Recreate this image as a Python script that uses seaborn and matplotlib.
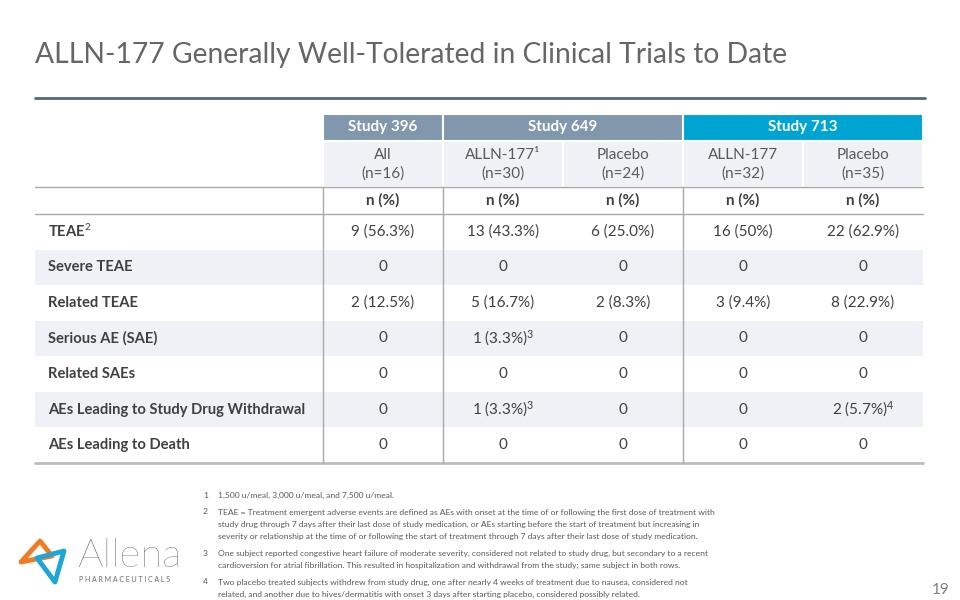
import numpy as np
import pandas as pd
import seaborn as sns
import matplotlib.pyplot as plt
from matplotlib.colors import ListedColormap
from matplotlib.patches import Rectangle, Polygon

# table content
studies = ['Study 396', 'Study 649', 'Study 713']
study_span = [1, 2, 2]
study_colors = ['#8097ac', '#8097ac', '#00a4d3']
arms = ['All', 'ALLN-177¹', 'Placebo', 'ALLN-177', 'Placebo']
arm_n = ['(n=16)', '(n=30)', '(n=24)', '(n=32)', '(n=35)']
unit = 'n (%)'
row_labels = ['TEAE$^{2}$', 'Severe TEAE', 'Related TEAE', 'Serious AE (SAE)', 'Related SAEs',
              'AEs Leading to Study Drug Withdrawal', 'AEs Leading to Death']
study396 = ['9 (56.3%)', '0', '2 (12.5%)', '0', '0', '0', '0']
study649_drug = ['13 (43.3%)', '0', '5 (16.7%)', '1 (3.3%)$^{3}$', '0', '1 (3.3%)$^{3}$', '0']
study649_pbo = ['6 (25.0%)', '0', '2 (8.3%)', '0', '0', '0', '0']
study713_drug = ['16 (50%)', '0', '3 (9.4%)', '0', '0', '0', '0']
study713_pbo = ['22 (62.9%)', '0', '8 (22.9%)', '0', '0', '2 (5.7%)$^{4}$', '0']

footnotes = [
    ('1', ['1,500 u/meal, 3,000 u/meal, and 7,500 u/meal.']),
    ('2', ['TEAE = Treatment emergent adverse events are defined as AEs with onset at the time of or following the first dose of treatment with',
           'study drug through 7 days after their last dose of study medication, or AEs starting before the start of treatment but increasing in',
           'severity or relationship at the time of or following the start of treatment through 7 days after their last dose of study medication.']),
    ('3', ['One subject reported congestive heart failure of moderate severity, considered not related to study drug, but secondary to a recent',
           'cardioversion for atrial fibrillation. This resulted in hospitalization and withdrawal from the study; same subject in both rows.']),
    ('4', ['Two placebo treated subjects withdrew from study drug, one after nearly 4 weeks of treatment due to nausea, considered not',
           'related, and another due to hives/dermatitis with onset 3 days after starting placebo, considered possibly related.']),
]

sns.set_theme(style='white')
plt.rcParams['font.family'] = ['Lato', 'DejaVu Sans']
plt.rcParams['mathtext.fontset'] = 'custom'
plt.rcParams['mathtext.rm'] = 'Lato'
plt.rcParams['mathtext.it'] = 'Lato:italic'
plt.rcParams['mathtext.bf'] = 'Lato:bold'

TXT = '#404040'
GRID = '#a9a9a9'
SHADE = '#eef1f5'

fig = plt.figure(figsize=(9.6, 6), dpi=100)
fig.patch.set_facecolor('white')

# layout in pixels
col_edges = [35, 323, 443, 563, 683, 803, 923]
y_h0, y_h1, y_h2, y_h3, y_end = 114, 141, 187, 214, 463

def fig_rect(x0, x1, y0, y1):
    return [x0 / 960, (600 - y1) / 600, (x1 - x0) / 960, (y1 - y0) / 600]

# data cells through a heatmap
values = pd.DataFrame({'a': study396, 'b': study649_drug, 'c': study649_pbo,
                       'd': study713_drug, 'e': study713_pbo}, index=row_labels)
shade = np.array([[i % 2] * values.shape[1] for i in range(len(values))])
cmap = ListedColormap(['white', SHADE])

ax_d = fig.add_axes(fig_rect(col_edges[1], col_edges[-1], y_h3, y_end))
sns.heatmap(shade, ax=ax_d, cmap=cmap, vmin=0, vmax=1, cbar=False,
            annot=values.values, fmt='', annot_kws={'fontsize': 11, 'color': TXT},
            xticklabels=False, yticklabels=False)

ax_l = fig.add_axes(fig_rect(col_edges[0], col_edges[1], y_h3, y_end))
sns.heatmap(shade[:, :1], ax=ax_l, cmap=cmap, vmin=0, vmax=1, cbar=False,
            xticklabels=False, yticklabels=False)
for i, lab in enumerate(row_labels):
    ax_l.text(0.045, i + 0.5, lab, ha='left', va='center', fontsize=10.6,
              fontweight='bold', color=TXT)

# overlay for header, rules, titles
ax = fig.add_axes([0, 0, 1, 1], zorder=10)
ax.set_xlim(0, 960)
ax.set_ylim(600, 0)
ax.axis('off')
ax.patch.set_alpha(0)

ax.text(35, 55, 'ALLN-177 Generally Well-Tolerated in Clinical Trials to Date',
        fontsize=20.3, fontweight='normal', color='#666666', va='center', ha='left')
ax.plot([35, 925], [98, 98], color='#52677a', lw=2)

# study header row
c = 1
for name, span, col in zip(studies, study_span, study_colors):
    x0, x1 = col_edges[c], col_edges[c + span]
    ax.add_patch(Rectangle((x0, y_h0), x1 - x0, y_h1 - y_h0, facecolor=col,
                           edgecolor='white', lw=1.5))
    ax.text((x0 + x1) / 2, (y_h0 + y_h1) / 2, name, color='white', fontsize=11,
            fontweight='bold', ha='center', va='center')
    c += span

# arm row and unit row
for j, (arm, n) in enumerate(zip(arms, arm_n)):
    x0, x1 = col_edges[j + 1], col_edges[j + 2]
    ax.add_patch(Rectangle((x0, y_h1), x1 - x0, y_h2 - y_h1, facecolor=SHADE,
                           edgecolor='white', lw=1.5))
    ax.text((x0 + x1) / 2, 155, arm, color='#595959', fontsize=11,
            ha='center', va='center')
    ax.text((x0 + x1) / 2, 174, n, color='#595959', fontsize=11,
            ha='center', va='center')
    ax.text((x0 + x1) / 2, (y_h2 + y_h3) / 2, unit, color=TXT, fontsize=11,
            fontweight='bold', ha='center', va='center')

# grid lines
ax.plot([col_edges[0], col_edges[-1]], [y_h2, y_h2], color=GRID, lw=1)
ax.plot([col_edges[0], col_edges[-1]], [y_h3, y_h3], color=GRID, lw=1)
ax.plot([col_edges[0], col_edges[-1]], [y_end, y_end], color='#bdbdbd', lw=2)
for xv in [col_edges[1], col_edges[2], col_edges[4]]:
    ax.plot([xv, xv], [y_h2, y_end], color=GRID, lw=1)

# footnotes
y = 495
for num, lines in footnotes:
    ax.text(203, y, num, fontsize=6.1, color='#595959', va='center')
    for ln in lines:
        ax.text(218, y, ln, fontsize=6.1, color='#595959', va='center')
        y += 12
    y += 5

ax.text(950, 590, '19', fontsize=11, color='#7f7f7f', ha='right', va='center')

# logo
ax.add_patch(Polygon([(21, 562), (40, 541), (52, 556)], closed=True, fill=False,
                     edgecolor='#f07b24', lw=3.5, joinstyle='round'))
ax.add_patch(Polygon([(37, 558), (64, 551), (55, 582)], closed=True, fill=False,
                     edgecolor='#1ea6d6', lw=3.5, joinstyle='round'))
ax.text(77, 556, 'Allena', fontsize=29, fontweight='light', color='#505050',
        ha='left', va='center')
ax.text(79, 580, ' '.join('PHARMACEUTICALS'), fontsize=5, color='#6b6b6b',
        ha='left', va='center')

fig.savefig('out.png', dpi=100, facecolor='white')
